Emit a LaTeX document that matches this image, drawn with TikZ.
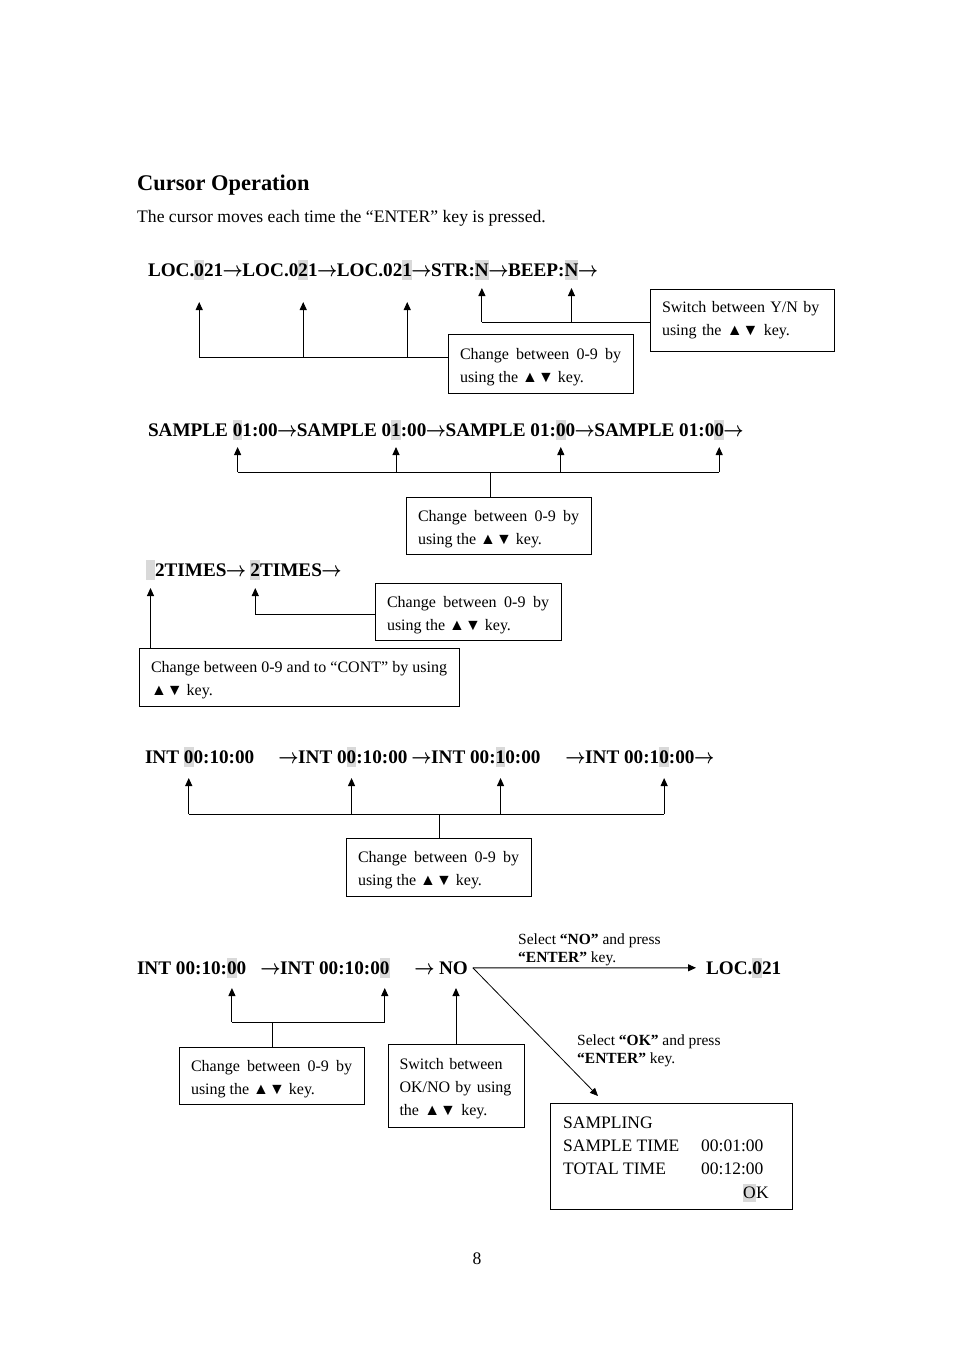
\documentclass[tikz,border=0pt]{standalone}
\usepackage{graphicx}
\usepackage{fontspec}
\setmainfont{Liberation Serif}
\usetikzlibrary{arrows.meta,shadows}
\definecolor{hlgray}{RGB}{217,217,217}
\newcommand\rowfont{\fontsize{19.2pt}{23pt}\selectfont\bfseries}
\newcommand\boxfont{\fontsize{16pt}{23pt}\selectfont}
\newcommand\lblfont{\fontsize{15.5pt}{18pt}\selectfont}
\newcommand\bodyfont{\fontsize{17.6pt}{21pt}\selectfont}
\newcommand\lcdfont{\fontsize{17.5pt}{23pt}\selectfont}
\newcommand\rar{\makebox[1em][c]{\scalebox{0.85}[1]{\boldmath$\rightarrow$}}}
\newcommand\wsp{\kern0.25em}
\begin{document}
\begin{tikzpicture}[x=1pt,y=-1pt,
  seg/.style={anchor=base west, inner sep=0pt, outer sep=0pt, font=\rowfont},
  hl/.style={seg, fill=hlgray, text height=16pt, text depth=4pt},
  ln/.style={line width=1pt},
  arr/.style={line width=1pt, -{Triangle[width=7pt,length=8pt]}},
  box/.style={draw, line width=0.8pt, fill=white, inner xsep=12pt, inner ysep=0pt,
    font=\boxfont, align=justify,
    drop shadow={shadow xshift=1.2pt, shadow yshift=-1.2pt, fill=black, opacity=1}},
  lowtext/.style={execute at begin node={\rule{0pt}{17.5pt}}},
  plain/.style={anchor=base west, inner sep=0pt}
]
\useasboundingbox (0,0) rectangle (954,1350);
\fill[white] (0,0) rectangle (954,1350);

% title
\node[plain, font=\fontsize{22.4pt}{26pt}\selectfont\bfseries] (title) at (137,190) {Cursor Operation};
\node[plain, font=\bodyfont] (intro) at (137,222) {The cursor moves each time the “ENTER” key is pressed.};

% ---------- row 1
\node[seg] (r1a) at (148,276) {LOC.};
\node[hl]  (r1h1) at (r1a.base east) {0};
\node[seg] (r1b) at (r1h1.base east) {21\rar LOC.0};
\node[hl]  (r1h2) at (r1b.base east) {2};
\node[seg] (r1c) at (r1h2.base east) {1\rar LOC.02};
\node[hl]  (r1h3) at (r1c.base east) {1};
\node[seg] (r1d) at (r1h3.base east) {\rar STR:};
\node[hl]  (r1h4) at (r1d.base east) {N};
\node[seg] (r1e) at (r1h4.base east) {\rar BEEP:};
\node[hl]  (r1h5) at (r1e.base east) {N};
\node[seg] (r1f) at (r1h5.base east) {\rar};

\node[box, lowtext, text width=161pt, minimum height=59pt] (b1) at (540.5,363.5) {Change between 0-9 by using the ▲▼ key.};
\node[box, align=left, text width=160pt, minimum height=62pt] (b2) at (742,320) {Switch between Y/N by using the ▲▼ key.};

\draw[ln] (r1h1.south |- 0,357) -- (b1.west |- 0,357);
\draw[arr] (r1h1.south |- 0,357) -- (r1h1.south |- 0,302);
\draw[arr] (r1h2.south |- 0,357) -- (r1h2.south |- 0,302);
\draw[arr] (r1h3.south |- 0,357) -- (r1h3.south |- 0,302);
\draw[ln] (r1h4.south |- 0,322) -- (b2.west |- 0,322);
\draw[arr] (r1h4.south |- 0,322) -- (r1h4.south |- 0,288);
\draw[arr] (r1h5.south |- 0,322) -- (r1h5.south |- 0,288);

% ---------- row 2
\node[seg] (r2a) at (148,436) {SAMPLE\wsp};
\node[hl]  (r2h1) at (r2a.base east) {0};
\node[seg] (r2b) at (r2h1.base east) {1:00\rar SAMPLE 0};
\node[hl]  (r2h2) at (r2b.base east) {1};
\node[seg] (r2c) at (r2h2.base east) {:00\rar SAMPLE 01:};
\node[hl]  (r2h3) at (r2c.base east) {0};
\node[seg] (r2d) at (r2h3.base east) {0\rar SAMPLE 01:0};
\node[hl]  (r2h4) at (r2d.base east) {0};
\node[seg] (r2e) at (r2h4.base east) {\rar};

\node[box, lowtext, text width=161pt, minimum height=57pt] (b3) at (498.5,525.5) {Change between 0-9 by using the ▲▼ key.};
\draw[ln] (r2h1.south |- 0,472) -- (r2h4.south |- 0,472);
\draw[arr] (r2h1.south |- 0,472) -- (r2h1.south |- 0,447);
\draw[arr] (r2h2.south |- 0,472) -- (r2h2.south |- 0,447);
\draw[arr] (r2h3.south |- 0,472) -- (r2h3.south |- 0,447);
\draw[arr] (r2h4.south |- 0,472) -- (r2h4.south |- 0,447);
\coordinate (j2) at (490,472);
\draw[ln] (j2) -- (j2 |- b3.north);

% ---------- row 3
\node[hl, minimum width=9pt] (r3h1) at (146,576) {};
\node[seg] (r3a) at (r3h1.base east) {2TIMES\rar\wsp};
\node[hl]  (r3h2) at (r3a.base east) {2};
\node[seg] (r3b) at (r3h2.base east) {TIMES\rar};

\node[box, lowtext, text width=162pt, minimum height=57pt] (b4) at (468,611.5) {Change between 0-9 by using the ▲▼ key.};
\node[box, lowtext, text width=296pt, minimum height=58pt] (b5) at (299,677) {Change between 0-9 and to “CONT” by using ▲▼ key.};
\draw[arr] (r3h1.south |- b5.north) -- (r3h1.south |- 0,588);
\draw[arr] (b4.west |- 0,614) -| (r3h2.south |- 0,588);

% ---------- row 4
\node[seg] (r4a) at (145,763) {INT\wsp};
\node[hl]  (r4h1) at (r4a.base east) {0};
\node[seg] (r4b) at (r4h1.base east) {0:10:00};
\node[seg] (r4c) at (279,763) {\rar INT 0};
\node[hl]  (r4h2) at (r4c.base east) {0};
\node[seg] (r4d) at (r4h2.base east) {:10:00};
\node[seg] (r4e) at (412,763) {\rar INT 00:};
\node[hl]  (r4h3) at (r4e.base east) {1};
\node[seg] (r4f) at (r4h3.base east) {0:00};
\node[seg] (r4g) at (566,763) {\rar INT 00:1};
\node[hl]  (r4h4) at (r4g.base east) {0};
\node[seg] (r4i) at (r4h4.base east) {:00\rar};

\node[box, lowtext, text width=161pt, minimum height=58pt] (b6) at (438.5,867) {Change between 0-9 by using the ▲▼ key.};
\draw[ln] (r4h1.south |- 0,814) -- (r4h4.south |- 0,814);
\draw[arr] (r4h1.south |- 0,814) -- (r4h1.south |- 0,778);
\draw[arr] (r4h2.south |- 0,814) -- (r4h2.south |- 0,778);
\draw[arr] (r4h3.south |- 0,814) -- (r4h3.south |- 0,778);
\draw[arr] (r4h4.south |- 0,814) -- (r4h4.south |- 0,778);
\coordinate (j4) at (439,814);
\draw[ln] (j4) -- (j4 |- b6.north);

% ---------- row 5
\node[seg] (r5a) at (137,974) {INT 00:10:};
\node[hl]  (r5h1) at (r5a.base east) {0};
\node[seg] (r5b) at (r5h1.base east) {0};
\node[seg] (r5c) at (261,974) {\rar INT 00:10:0};
\node[hl]  (r5h2) at (r5c.base east) {0};
\node[seg] (r5no) at (415,974) {\rar\ NO};
\node[seg] (r5l1) at (706,974) {LOC.};
\node[hl]  (r5lh) at (r5l1.base east) {0};
\node[seg] (r5l2) at (r5lh.base east) {21};

\node[plain, font=\lblfont] (lno1) at (518,944) {Select \textbf{“NO”} and press};
\node[plain, font=\lblfont] (lno2) at (518,962) {\textbf{“ENTER”} key.};
\node[plain, font=\lblfont] (lok1) at (577,1045) {Select \textbf{“OK”} and press};
\node[plain, font=\lblfont] (lok2) at (577,1063) {\textbf{“ENTER”} key.};

\coordinate (dtip) at (598,1096);
\draw[arr] ([xshift=5pt]r5no.east) -- ([xshift=-10pt]r5l1.west);
\draw[arr, line width=0.8pt] ([xshift=5pt]r5no.east) -- (dtip);

\node[box, lowtext, text width=161pt, minimum height=57pt] (b8) at (271.5,1075.5) {Change between 0-9 by using the ▲▼ key.};
\node[box, lowtext, align=left, inner xsep=11.5pt, text width=113pt, minimum height=83pt] (b9) at (456,1085.5) {Switch between\\OK/NO by using\\the ▲▼ key.};
\draw[ln] (r5h1.south |- 0,1022) -- (r5h2.south |- 0,1022);
\draw[arr] (r5h1.south |- 0,1022) -- (r5h1.south |- 0,988);
\draw[arr] (r5h2.south |- 0,1022) -- (r5h2.south |- 0,988);
\coordinate (j5) at (272,1022);
\draw[ln] (j5) -- (j5 |- b8.north);
\draw[arr] (b9.north) -- (b9.north |- 0,988);

% LCD box
\node[box, minimum width=242pt, minimum height=106pt, inner sep=0pt] (b7) at (671,1156) {};
\node[plain, font=\lcdfont] (s1) at (563,1128) {SAMPLING};
\node[plain, font=\lcdfont] (s2) at (563,1151) {SAMPLE TIME};
\node[plain, font=\lcdfont] (s3) at (701,1151) {00:01:00};
\node[plain, font=\lcdfont] (s4) at (563,1174) {TOTAL TIME};
\node[plain, font=\lcdfont] (s5) at (701,1174) {00:12:00};
\node[plain, font=\lcdfont, fill=hlgray, text height=14pt, text depth=4pt] (s6) at (743,1198) {O};
\node[plain, font=\lcdfont] (s7) at (s6.base east) {K};

\node[font=\bodyfont] (pg) at (477,1259) {8};
\end{tikzpicture}
\end{document}
